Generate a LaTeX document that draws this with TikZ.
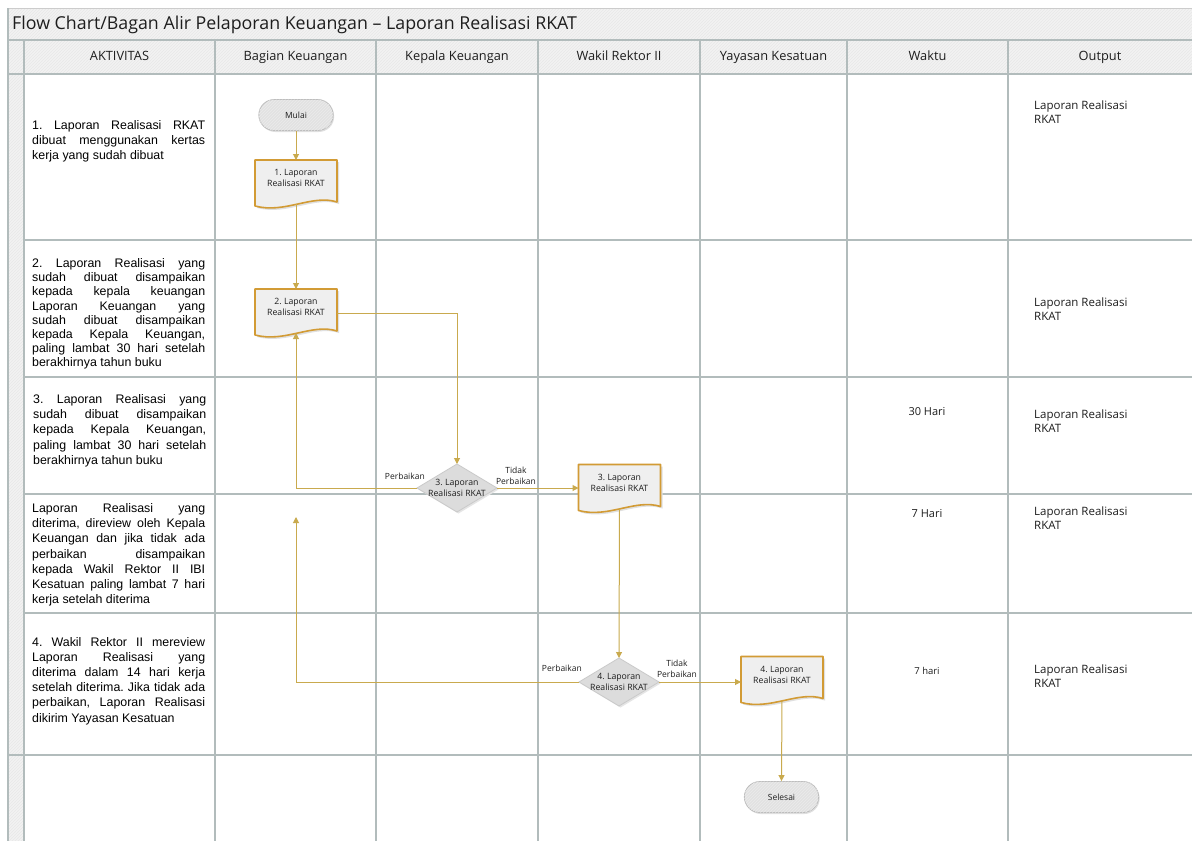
\documentclass[tikz,border=0pt]{standalone}
\usepackage{fontspec}
\setmainfont{Open Sans}
\newfontfamily\arialf{Liberation Sans}
\usetikzlibrary{shapes.misc,arrows.meta,patterns,calc,shadows}
\definecolor{gridc}{HTML}{B2BCBC}
\definecolor{barfill}{HTML}{F2F2F2}
\definecolor{hatchc}{HTML}{E8E8E8}
\definecolor{docborder}{HTML}{D29B35}
\definecolor{docfill}{HTML}{EFEFEF}
\definecolor{arrc}{HTML}{C9AA4E}
\definecolor{termfill}{HTML}{E2E2E2}
\definecolor{termdraw}{HTML}{BDBDBD}
\definecolor{diafill}{HTML}{DCDCDC}
\definecolor{diadraw}{HTML}{CACACA}
\definecolor{txt}{HTML}{1E1E1E}
\pgfdeclarelayer{gridlayer}
\pgfdeclarelayer{shplayer}
\pgfsetlayers{gridlayer,shplayer,main}
\frenchspacing
\newcommand\jl[1]{\makebox[173pt][s]{#1}\\}
\newcommand\docshp[1]{%
  \begin{pgfonlayer}{shplayer}
    \fill[black!12] ($(#1)+(-39,-16)$) -- ($(#1)+(43,-16)$) -- ($(#1)+(43,26)$)
      .. controls ($(#1)+(18,18)$) and ($(#1)+(-9,38)$) .. ($(#1)+(-39,30)$) -- cycle;
    \path[docshape] ($(#1)+(-41,-18)$) -- ($(#1)+(41,-18)$) -- ($(#1)+(41,24)$)
      .. controls ($(#1)+(16,16)$) and ($(#1)+(-11,36)$) .. ($(#1)+(-41,28)$) -- cycle;
  \end{pgfonlayer}
  \coordinate (#1-n) at ($(#1)+(0,-18)$);
  \coordinate (#1-s) at ($(#1)+(0,26)$);
  \coordinate (#1-w) at ($(#1)+(-41,0)$);
  \coordinate (#1-e) at ($(#1)+(41,0)$);}
\newcommand\diashp[1]{%
  \coordinate (#1-n) at ($(#1)+(0,-24)$);
  \coordinate (#1-s) at ($(#1)+(0,24)$);
  \coordinate (#1-w) at ($(#1)+(-40,0)$);
  \coordinate (#1-e) at ($(#1)+(40,0)$);
  \begin{pgfonlayer}{shplayer}
    \fill[black!10] ($(#1-n)+(1.5,1.5)$) -- ($(#1-e)+(1.5,1.5)$) -- ($(#1-s)+(1.5,1.5)$) -- ($(#1-w)+(1.5,1.5)$) -- cycle;
    \path[diashape] (#1-n) -- (#1-e) -- (#1-s) -- (#1-w) -- cycle;
  \end{pgfonlayer}}
\tikzset{
  gridline/.style={draw=gridc,line width=1.2pt},
  hdr/.style={font=\fontsize{12.8}{15}\selectfont, text=txt, inner sep=0pt, text height=9pt, text depth=3pt},
  act/.style={anchor=base west, inner sep=0pt, text=black, font=\arialf},
  outp/.style={anchor=north west, inner sep=0pt, align=left, font=\fontsize{11.5}{14}\selectfont, text=txt},
  waktu/.style={inner sep=0pt, font=\fontsize{11}{13}\selectfont, text=txt, text height=8pt, text depth=2pt},
  term/.style={rounded rectangle, draw=termdraw, fill=termfill, minimum width=81pt, minimum height=31pt,
    font=\fontsize{8.5}{10}\selectfont, line width=0.8pt, text=txt,
    drop shadow={shadow xshift=1pt, shadow yshift=-1.5pt, opacity=0.25},
    postaction={pattern=north east lines, pattern color=termdraw!30}},
  doctext/.style={inner sep=0pt, align=center, font=\fontsize{8.7}{11}\selectfont, text=txt},
  lbl/.style={inner sep=0pt, align=center, font=\fontsize{8.5}{11}\selectfont, text=txt},
  arr/.style={draw=arrc, line width=1pt, -{Triangle[length=6pt,width=6pt]}},
  docshape/.style={draw=docborder, fill=docfill, line width=1.6pt, line join=round},
  diashape/.style={draw=diadraw, fill=diafill, line width=0.8pt},
}
\begin{document}
\begin{tikzpicture}[x=1pt,y=-1pt]
\useasboundingbox (0,0) rectangle (1192,841);
\begin{pgfonlayer}{gridlayer}
  \fill[white] (0,0) rectangle (1192,841);
  % bars
  \fill[barfill] (8,8) rectangle (1192,74);
  \fill[barfill] (8,74) rectangle (24,841);
  \fill[pattern=north east lines, pattern color=hatchc] (8,8) rectangle (1192,74);
  \fill[pattern=north east lines, pattern color=hatchc] (8,74) rectangle (24,841);
  \draw[draw=black!20, line width=1pt] (8,8) -- (1192,8);
  % horizontal lines
  \draw[gridline] (8,40) -- (1192,40);
  \draw[gridline] (8,74) -- (1192,74);
  \foreach \yy in {240,377,494,613} {\draw[gridline] (24,\yy) -- (1192,\yy);}
  \draw[gridline] (8,755) -- (1192,755);
  % vertical lines
  \draw[gridline] (8,8) -- (8,841);
  \foreach \xx in {24,215,376,538,700,847,1008} {\draw[gridline] (\xx,40) -- (\xx,841);}
\end{pgfonlayer}

% title and headers
\node[anchor=west, inner sep=0pt, font=\fontsize{17.8}{20}\selectfont, text=txt] (title) at (12,25)
  {Flow Chart/Bagan Alir Pelaporan Keuangan – Laporan Realisasi RKAT};
\node[hdr] (h1) at (119.5,57) {AKTIVITAS};
\node[hdr] (h2) at (295.5,57) {Bagian Keuangan};
\node[hdr] (h3) at (457,57) {Kepala Keuangan};
\node[hdr] (h4) at (619,57) {Wakil Rektor II};
\node[hdr] (h5) at (773.5,57) {Yayasan Kesatuan};
\node[hdr] (h6) at (927.5,57) {Waktu};
\node[hdr] (h7) at (1100,57) {Output};

% activity texts
\node[act] (a1) at (32,129.5) {\parbox[t]{173pt}{\fontsize{12.4}{15}\selectfont
  \jl{1. Laporan Realisasi RKAT}\jl{dibuat menggunakan kertas}kerja yang sudah dibuat}};
\node[act] (a2) at (32,267.5) {\parbox[t]{173pt}{\fontsize{12.4}{14.2}\selectfont
  \jl{2. Laporan Realisasi yang}\jl{sudah dibuat disampaikan}\jl{kepada kepala keuangan}\jl{Laporan Keuangan yang}\jl{sudah dibuat disampaikan}\jl{kepada Kepala Keuangan,}\jl{paling lambat 30 hari setelah}berakhirnya tahun buku}};
\node[act] (a3) at (33,403.5) {\parbox[t]{173pt}{\fontsize{12.4}{15.2}\selectfont
  \jl{3. Laporan Realisasi yang}\jl{sudah dibuat disampaikan}\jl{kepada Kepala Keuangan,}\jl{paling lambat 30 hari setelah}berakhirnya tahun buku}};
\node[act] (a4) at (32,512.5) {\parbox[t]{173pt}{\fontsize{12.4}{15.2}\selectfont
  \jl{Laporan Realisasi yang}\jl{diterima, direview oleh Kepala}\jl{Keuangan dan jika tidak ada}\jl{perbaikan disampaikan}\jl{kepada Wakil Rektor II IBI}\jl{Kesatuan paling lambat 7 hari}kerja setelah diterima}};
\node[act] (a5) at (32,646.5) {\parbox[t]{173pt}{\fontsize{12.4}{15.1}\selectfont
  \jl{4. Wakil Rektor II mereview}\jl{Laporan Realisasi yang}\jl{diterima dalam 14 hari kerja}\jl{setelah diterima. Jika tidak ada}\jl{perbaikan, Laporan Realisasi}dikirim Yayasan Kesatuan}};

% waktu
\node[waktu] (w3) at (927,412) {30 Hari};
\node[waktu] (w4) at (927,514) {7 Hari};
\node[waktu, font=\fontsize{9.5}{11}\selectfont] (w5) at (927,671) {7 hari};

% output
\node[outp] (o1) at (1034,101) {Laporan Realisasi\\RKAT};
\node[outp] (o2) at (1034,298) {Laporan Realisasi\\RKAT};
\node[outp] (o3) at (1034,410) {Laporan Realisasi\\RKAT};
\node[outp] (o4) at (1034,507) {Laporan Realisasi\\RKAT};
\node[outp] (o5) at (1034,665) {Laporan Realisasi\\RKAT};

% flow nodes
\node[term] (mulai) at (296,115) {Mulai};
\node[doctext] (doc1) at (296,178) {1. Laporan\\Realisasi RKAT};
\docshp{doc1}
\node[doctext] (doc2) at (296,307) {2. Laporan\\Realisasi RKAT};
\docshp{doc2}
\coordinate (doc2-out) at ($(doc2)+(41,6)$);
\node[doctext] (dia3) at (457,488) {3. Laporan\\Realisasi RKAT};
\diashp{dia3}
\node[doctext] (doc3) at (619.5,482.5) {3. Laporan\\Realisasi RKAT};
\docshp{doc3}
\node[doctext] (dia4) at (619,682) {4. Laporan\\Realisasi RKAT};
\diashp{dia4}
\node[doctext] (doc4) at (782,674.5) {4. Laporan\\Realisasi RKAT};
\docshp{doc4}
\node[term] (selesai) at (781.5,797) {Selesai};
\coordinate (ret4) at (296,517);

% labels
\node[lbl, anchor=east] (lp3) at (425,476) {Perbaikan};
\node[lbl] (lt3) at (516,475.5) {Tidak\\Perbaikan};
\node[lbl, anchor=east] (lp4) at (582,668) {Perbaikan};
\node[lbl] (lt4) at (677,669) {Tidak\\Perbaikan};

% connectors
\draw[arr] (mulai.south) -- (doc1-n);
\draw[arr] (doc1-s) -- (doc2-n);
\draw[arr] (doc2-out) -| (dia3-n);
\draw[arr] (dia3-w) -| (doc2-s);
\draw[arr] (dia3-e) -- (dia3-e -| doc3-w);
\draw[arr] (doc3-s) -- (dia4-n);
\draw[arr] (dia4-w) -| (ret4);
\draw[arr] (dia4-e) -- (dia4-e -| doc4-w);
\draw[arr] (doc4-s) -- (selesai.north);
\end{tikzpicture}
\end{document}
